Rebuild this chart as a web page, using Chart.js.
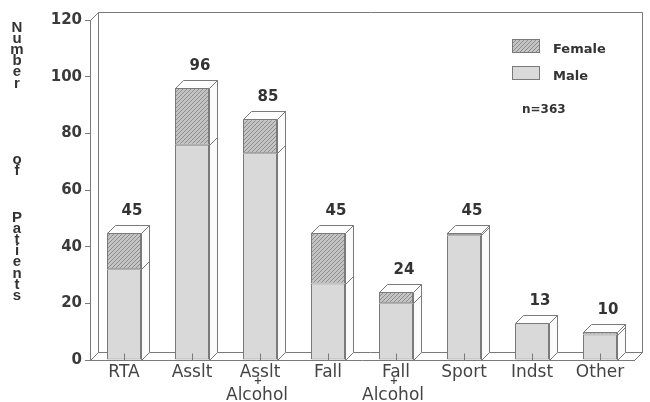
<!DOCTYPE html>
<html>
<head>
<meta charset="utf-8">
<script src="https://cdn.jsdelivr.net/npm/chart.js@4/dist/chart.umd.min.js"></script>
<style>
  html, body { margin: 0; padding: 0; background: #fff; }
  #wrap { width: 650px; height: 402px; }
</style>
</head>
<body>
<div id="wrap"><canvas id="c" width="650" height="402"></canvas></div>
<script>
// Injury cause categories (multi-line labels are split into lines)
const categories = [
  ["RTA"], ["Asslt"], ["Asslt", "+", "Alcohol"], ["Fall"],
  ["Fall", "+", "Alcohol"], ["Sport"], ["Indst"], ["Other"]
];
// Patients per category, by sex
const maleCounts   = [32, 76, 73, 27, 20, 44, 13, 9];
const femaleCounts = [13, 20, 12, 18,  4,  1,  0, 1];
// Value axis
const yTicks = [0, 20, 40, 60, 80, 100, 120];
const axisTitleWords = ["Number", "of", "Patients"];

const FONT = "'DejaVu Sans', 'Liberation Sans', sans-serif";
const EDGE = '#7a7a7a';
const TEXT = '#333';
const DEPTH = 8;

// diagonal hatch used for the female segments
function hatchPattern() {
  const c = document.createElement('canvas');
  c.width = 4; c.height = 4;
  const g = c.getContext('2d');
  g.fillStyle = '#c4c4c4';
  g.fillRect(0, 0, 4, 4);
  g.strokeStyle = '#8c8c8c';
  g.lineWidth = 1;
  g.beginPath();
  g.moveTo(-1, 5); g.lineTo(5, -1);
  g.moveTo(-1, 1); g.lineTo(1, -1);
  g.moveTo(3, 5); g.lineTo(5, 3);
  g.stroke();
  return g.createPattern(c, 'repeat');
}
const FEMALE_FILL = hatchPattern();
const MALE_FILL = '#d9d9d9';

function px(v) { return Math.round(v) + 0.5; }

function poly(ctx, pts, fill) {
  ctx.beginPath();
  pts.forEach((p, i) => i ? ctx.lineTo(px(p[0]), px(p[1])) : ctx.moveTo(px(p[0]), px(p[1])));
  ctx.closePath();
  if (fill) { ctx.fillStyle = fill; ctx.fill(); }
  ctx.stroke();
}
function seg(ctx, x1, y1, x2, y2) {
  ctx.beginPath();
  ctx.moveTo(px(x1), px(y1));
  ctx.lineTo(px(x2), px(y2));
  ctx.stroke();
}

// back wall, side wall and floor of the 3-D box
const boxPlugin = {
  id: 'box3d',
  beforeDatasetsDraw(chart) {
    const { ctx, chartArea: { left: L, right: R, top: T, bottom: B } } = chart;
    const d = DEPTH;
    ctx.save();
    ctx.strokeStyle = EDGE;
    ctx.lineWidth = 1;
    seg(ctx, L, T, L + d, T - d);
    seg(ctx, L + d, T - d, L + d, B - d);
    seg(ctx, L + d, T - d, R + d, T - d);
    seg(ctx, R + d, T - d, R + d, B - d);
    seg(ctx, L + d, B - d, R + d, B - d);
    seg(ctx, L, B, L + d, B - d);
    seg(ctx, R, B, R + d, B - d);
    ctx.restore();
  }
};

// side and top faces of each bar, totals above them
const barFacesPlugin = {
  id: 'barFaces',
  afterDatasetsDraw(chart) {
    const { ctx } = chart;
    const d = DEPTH;
    const xScale = chart.scales.x;
    ctx.save();
    ctx.strokeStyle = EDGE;
    ctx.lineWidth = 1;
    chart.data.labels.forEach((_, i) => {
      const segs = [];
      let total = 0;
      chart.data.datasets.forEach((ds, k) => {
        total += ds.data[i];
        if (ds.data[i] > 0) segs.push(chart.getDatasetMeta(k).data[i]);
      });
      if (!segs.length) return;
      const top = Math.min(...segs.map(e => e.y));
      const base = Math.max(...segs.map(e => e.base));
      const x = segs[0].x, w = segs[0].width;
      const l = x - w / 2, r = x + w / 2;
      poly(ctx, [[r, top], [r + d, top - d], [r + d, base - d], [r, base]], '#fbfbfb');
      poly(ctx, [[l, top], [l + d, top - d], [r + d, top - d], [r, top]], '#fdfdfd');
      segs.forEach(e => { if (e.y > top + 0.5) seg(ctx, r, e.y, r + d, e.y - d); });
      // centre mark on the floor line
      seg(ctx, x, base - 7, x, base);
      ctx.fillStyle = TEXT;
      ctx.font = 'bold 15px ' + FONT;
      ctx.textAlign = 'center';
      ctx.textBaseline = 'alphabetic';
      ctx.fillText(String(total), x + d, top - d - 10);
    });

    // extra lines of the multi-line category labels
    const B = chart.chartArea.bottom;
    categories.forEach((lines, i) => {
      if (lines.length < 2) return;
      const x = xScale.getPixelForTick(i);
      ctx.fillStyle = '#444';
      ctx.textAlign = 'center';
      ctx.textBaseline = 'middle';
      ctx.font = 'bold 10px ' + FONT;
      ctx.fillText(lines[1], x - 2, B + 21);
      ctx.textBaseline = 'alphabetic';
      ctx.font = '17px ' + FONT;
      ctx.fillText(lines[2], x - 3, B + 40);
    });
    ctx.restore();
  }
};

// stacked-letter axis title and the legend box
const annotationPlugin = {
  id: 'annotations',
  afterDraw(chart) {
    const { ctx } = chart;
    ctx.save();
    ctx.fillStyle = TEXT;
    ctx.font = "bold 15px 'Liberation Sans', sans-serif";
    ctx.textAlign = 'center';
    ctx.textBaseline = 'alphabetic';
    const wordStarts = [32, 164, 222];
    const step = 11.1;
    axisTitleWords.forEach((word, w) => {
      [...word].forEach((ch, j) => ctx.fillText(ch, 17, wordStarts[w] + j * step));
    });

    // legend: topmost series first
    const sets = chart.data.datasets.slice().reverse();
    sets.forEach((ds, k) => {
      const y = 39 + k * 27;
      ctx.fillStyle = ds.backgroundColor;
      ctx.fillRect(512, y, 28, 14);
      ctx.strokeStyle = EDGE;
      ctx.strokeRect(512.5, y + 0.5, 27, 13);
      ctx.fillStyle = TEXT;
      ctx.font = 'bold 13px ' + FONT;
      ctx.textAlign = 'left';
      ctx.fillText(ds.label, 553, y + 14);
    });
    const n = chart.data.datasets.reduce((s, ds) => s + ds.data.reduce((a, b) => a + b, 0), 0);
    ctx.font = 'bold 12px ' + FONT;
    ctx.fillText('n=' + n, 522, 113);
    ctx.restore();
  }
};

new Chart(document.getElementById('c'), {
  type: 'bar',
  data: {
    labels: categories,
    datasets: [
      { label: 'Male', data: maleCounts, backgroundColor: MALE_FILL,
        borderColor: EDGE, borderWidth: 1, borderSkipped: false },
      { label: 'Female', data: femaleCounts, backgroundColor: FEMALE_FILL,
        borderColor: EDGE, borderWidth: 1, borderSkipped: false }
    ]
  },
  options: {
    responsive: false,
    animation: false,
    devicePixelRatio: 1,
    layout: { padding: { top: 20, right: 16, bottom: 0, left: 0 } },
    datasets: { bar: { barPercentage: 0.5, categoryPercentage: 1 } },
    plugins: { legend: { display: false }, tooltip: { enabled: false } },
    scales: {
      x: {
        stacked: true,
        grid: { display: false, drawTicks: false },
        border: { display: true, color: EDGE },
        ticks: {
          autoSkip: false, maxRotation: 0, padding: 2,
          color: '#444', font: { family: FONT, size: 17 },
          callback: (v, i) => categories[i][0]
        },
        afterFit: s => { s.height = 42; }
      },
      y: {
        stacked: true,
        min: 0, max: 120,
        afterBuildTicks: s => { s.ticks = yTicks.map(v => ({ value: v })); },
        grid: { display: true, drawOnChartArea: false, drawTicks: true, tickLength: 5, color: EDGE },
        border: { display: true, color: EDGE },
        ticks: { color: '#3a3a3a', padding: 3, font: { family: FONT, size: 15, weight: 'bold' } },
        afterFit: s => { s.width = 90; }
      }
    }
  },
  plugins: [boxPlugin, barFacesPlugin, annotationPlugin]
});
</script>
</body>
</html>
